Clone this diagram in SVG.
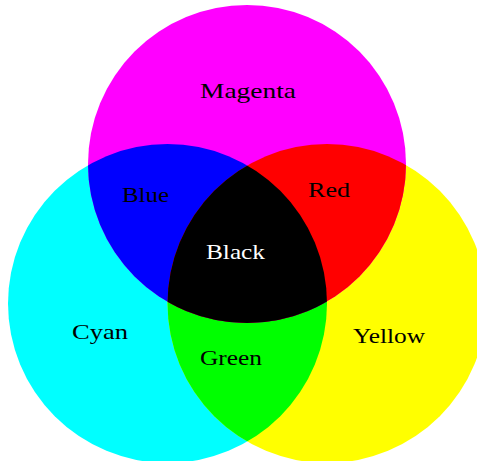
<svg xmlns="http://www.w3.org/2000/svg" width="477" height="461" viewBox="0 0 477 461">
  <style>
    .lbl { font-family: "Liberation Serif", "Times New Roman", serif; font-size: 21px; fill: #000; text-anchor: middle; }
    .white { fill: #fff; }
  </style>
  <defs>
    <clipPath id="clipC"><circle cx="167.5" cy="303.5" r="159.5"/></clipPath>
    <clipPath id="clipY"><circle cx="327" cy="303.5" r="159.5"/></clipPath>
    <clipPath id="clipM"><circle cx="247" cy="164" r="159"/></clipPath>
  </defs>
  <rect width="477" height="461" fill="#fff"/>
  <g id="cyan"><circle cx="167.5" cy="303.5" r="159.5" fill="#00ffff"/></g>
  <g id="yellow"><circle cx="327" cy="303.5" r="159.5" fill="#ffff00"/></g>
  <g id="magenta"><circle cx="247" cy="164" r="159" fill="#ff00ff"/></g>
  <g id="green" clip-path="url(#clipC)"><circle cx="327" cy="303.5" r="159.5" fill="#00ff00"/></g>
  <g id="blue" clip-path="url(#clipC)"><circle cx="247" cy="164" r="159" fill="#0000ff"/></g>
  <g id="red" clip-path="url(#clipY)"><circle cx="247" cy="164" r="159" fill="#ff0000"/></g>
  <g id="black" clip-path="url(#clipC)"><g clip-path="url(#clipY)"><circle cx="247" cy="164" r="159" fill="#000000"/></g></g>
  <g id="labels">
    <text class="lbl" x="248" y="98" textLength="96" lengthAdjust="spacingAndGlyphs">Magenta</text>
    <text class="lbl" x="145.5" y="202" textLength="47" lengthAdjust="spacingAndGlyphs">Blue</text>
    <text class="lbl" x="329" y="197" textLength="42" lengthAdjust="spacingAndGlyphs">Red</text>
    <text class="lbl white" x="235.5" y="259" textLength="59" lengthAdjust="spacingAndGlyphs">Black</text>
    <text class="lbl" x="100" y="339" textLength="56" lengthAdjust="spacingAndGlyphs">Cyan</text>
    <text class="lbl" x="231" y="365" textLength="62" lengthAdjust="spacingAndGlyphs">Green</text>
    <text class="lbl" x="389" y="343" textLength="72" lengthAdjust="spacingAndGlyphs">Yellow</text>
  </g>
</svg>
